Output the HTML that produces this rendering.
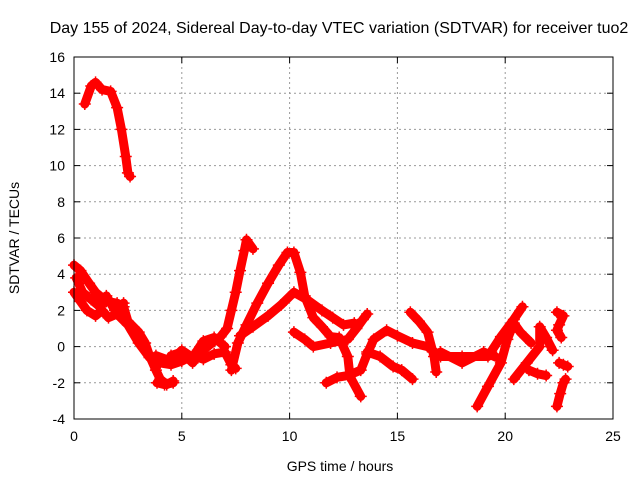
<!DOCTYPE html>
<html><head><meta charset="utf-8"><style>
body{margin:0;background:#fff}
svg{display:block;font-family:"Liberation Sans",sans-serif}
</style></head><body>
<svg id="chart" width="640" height="480">
<text x="339" y="33" font-size="16" text-anchor="middle">Day 155 of 2024, Sidereal Day-to-day VTEC variation (SDTVAR) for receiver tuo2</text>
<text x="340" y="471" font-size="14" text-anchor="middle">GPS time / hours</text>
<text transform="translate(19,238) rotate(-90)" font-size="14" text-anchor="middle">SDTVAR / TECUs</text>
<g id="grid"></g>
<g id="ticks"></g>
<g id="series"></g>
<rect x="74" y="57" width="539" height="362" fill="none" stroke="#000" stroke-width="1"/>
</svg>
<script>
const xTicks=[0,5,10,15,20,25];
const yTicks=[-4,-2,0,2,4,6,8,10,12,14,16];
const trackA=[[0.5,13.4],[0.8,14.4],[1.0,14.6],[1.3,14.2],[1.7,14.1],[2.0,13.2],[2.2,12],[2.4,10.5],[2.5,9.6],[2.6,9.4]];
const trackB=[[0,4.5],[0.3,4.2],[0.7,3.5],[1,3],[1.5,2.5],[2,2.4],[2.3,2.2],[2.5,1.4],[3,0.8],[3.3,0.2],[3.5,-0.5],[3.8,-1.3],[4.0,-1.8],[4.3,-2.1],[4.6,-1.9]];
const trackC=[[0,3],[0.3,2.5],[0.6,2],[1,1.7],[1.3,2.0],[1.6,1.6],[2,1.8],[2.5,1.2],[3,0.2],[3.5,-0.6],[4,-0.9],[4.5,-1.0],[5,-0.8],[5.5,-0.5],[6,-0.7],[6.5,-0.4],[7,-0.3],[7.3,-1.0],[7.5,-1.2]];
const trackD=[[0.1,3.8],[0.4,3.0],[0.8,2.6],[1.2,2.2],[1.5,2.8],[1.9,2.0],[2.3,2.4]];
const trackE=[[4.5,-0.5],[5,-0.3],[5.5,-0.9],[6,-0.2],[6.5,0.3],[6.8,0.55],[7.1,1.0],[7.3,2.0],[7.5,3.0],[7.7,4.2],[7.9,5.3],[8.0,5.9],[8.3,5.4]];
const trackF=[[7.3,-1.3],[7.6,0.2],[8.0,1.2],[8.5,2.4],[9.0,3.5],[9.5,4.5],[9.9,5.2],[10.2,5.2],[10.5,4.1],[10.7,2.8],[11.1,1.6],[11.5,1.1],[11.9,0.55],[12.3,0.5],[12.7,-0.55],[12.8,-1.65],[13.3,-2.75]];
const trackG=[[7.7,0.6],[8.3,1.1],[9.0,1.7],[9.6,2.3],[10.2,3.0],[10.8,2.6],[11.5,2.0],[12.0,1.6],[12.5,1.2],[13.0,1.3]];
const trackH=[[10.2,0.8],[10.7,0.4],[11.1,0],[11.9,0.2],[12.7,0.4],[13.1,1.0],[13.4,1.5],[13.6,1.8]];
const trackI=[[11.7,-2.0],[12.2,-1.7],[12.7,-1.6],[13.3,-1.3],[13.6,-0.4],[13.9,0.4],[14.5,0.9],[15.0,0.6],[15.7,0.2],[16.4,0],[17.0,-0.55],[18.0,-0.55],[19.2,-0.55],[19.8,0.55],[20.4,1.5],[20.8,2.2]];
const trackJ=[[13.6,-0.3],[14.2,-0.55],[14.8,-1.1],[15.2,-1.3],[15.7,-1.8]];
const trackK=[[15.6,1.9],[16.0,1.4],[16.4,0.8],[16.7,-0.55],[16.8,-1.4]];
const trackL=[[18.7,-3.3],[19.2,-2.2],[19.8,-0.9],[20.1,0.4],[20.4,1.3],[20.7,0.8],[21.2,0.2]];
const trackM=[[20.4,-1.8],[21.0,-0.9],[21.6,0],[21.6,1.1],[21.9,0.5],[22.2,-0.2]];
const trackN=[[21.1,-1.3],[21.5,-1.5],[21.9,-1.6]];
const trackO=[[22.4,1.9],[22.7,1.7],[22.5,1.2],[22.4,0.9],[22.6,0.5]];
const trackP=[[22.5,-0.9],[22.7,-1.0],[22.9,-1.1]];
const trackQ=[[22.4,-3.3],[22.55,-2.6],[22.7,-2.0],[22.8,-1.8]];
const trackR=[[3.85,-2.0],[4.2,-2.1],[4.6,-2.0]];
const trackS=[[3.8,-0.5],[4.5,-0.8],[5,-0.2],[5.5,-0.6],[6,0.3],[6.5,0.5],[7,0.0]];
const trackT=[[17,-0.3],[18,-0.9],[19,-0.3],[19.6,-0.6]];
const tracks=[trackA,trackB,trackC,trackD,trackE,trackF,trackG,trackH,trackI,trackJ,trackK,trackL,trackM,trackN,trackO,trackP,trackQ,trackR,trackS,trackT];
const NS='http://www.w3.org/2000/svg';
const X0=74,X1=613,Y0=419,Y1=57;
function sx(h){return X0+(h-0)/(25-0)*(X1-X0);}
function sy(v){return Y0-(v-(-4))/(16-(-4))*(Y0-Y1);}
function mk(tag,attrs,parent){const e=document.createElementNS(NS,tag);for(const k in attrs)e.setAttribute(k,attrs[k]);parent.appendChild(e);return e;}
const grid=document.getElementById('grid'),ticks=document.getElementById('ticks'),ser=document.getElementById('series');
xTicks.forEach(t=>{
  const x=sx(t);
  if(t>0&&t<25){const g=mk('line',{x1:x,x2:x,y1:Y1,y2:Y0,stroke:'#999','stroke-dasharray':'2,3'},grid);
  
  }
  mk('line',{x1:x,x2:x,y1:Y0,y2:Y0-6,stroke:'#000'},ticks);
  mk('line',{x1:x,x2:x,y1:Y1,y2:Y1+6,stroke:'#000'},ticks);
  const l=mk('text',{x:x,y:Y0+22,'font-size':14,'text-anchor':'middle'},ticks);l.textContent=t;
  
  
});
yTicks.forEach(t=>{
  const y=sy(t);
  if(t>-4&&t<16){const g=mk('line',{x1:X0,x2:X1,y1:y,y2:y,stroke:'#999','stroke-dasharray':'2,3'},grid);
  
  }
  mk('line',{x1:X0,x2:X0+6,y1:y,y2:y,stroke:'#000'},ticks);
  mk('line',{x1:X1,x2:X1-6,y1:y,y2:y,stroke:'#000'},ticks);
  const l=mk('text',{x:X0-9,y:y+5,'font-size':14,'text-anchor':'end'},ticks);l.textContent=t;
  
  
});
tracks.forEach((tr,i)=>{
  const p=mk('polyline',{points:tr.map(d=>sx(d[0])+','+sy(d[1])).join(' '),fill:'none',stroke:'#f00','stroke-width':9,'stroke-linejoin':'round','stroke-linecap':'round'},ser);
  
  
  tr.forEach(d=>{
    const x=sx(d[0]),y=sy(d[1]);
    const m=mk('path',{d:`M${x-6},${y}h12M${x},${y-6}v12`,stroke:'#f00','stroke-width':1.5},ser);
    
    
  });
});
</script>
</body></html>
